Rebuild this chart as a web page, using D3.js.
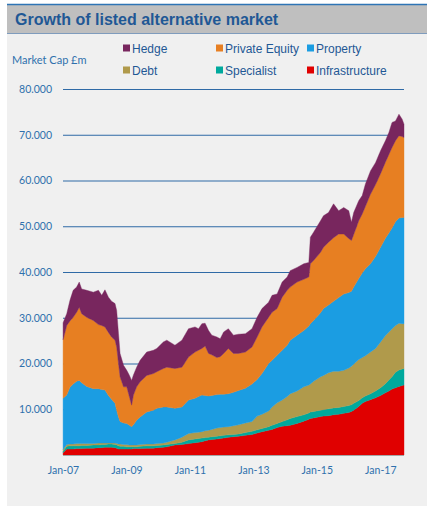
<!DOCTYPE html>
<html>
<head>
<meta charset="utf-8">
<script src="https://cdn.jsdelivr.net/npm/d3@7/dist/d3.min.js"></script>
<style>
    body { margin: 0; background: #fff; }
</style>
</head>
<body>
<svg id="chart" width="427" height="506"></svg>
<script>
// market cap by sector, £m (stacked bottom -> top)
var dates = [
    "2007-01-02","2007-02-13","2007-03-22","2007-04-28","2007-06-07","2007-07-07","2007-08-04","2007-10-01","2007-12-16","2008-02-13",
    "2008-03-22","2008-04-28","2008-06-07","2008-07-13","2008-08-22","2008-09-10","2008-10-01","2008-10-19","2008-11-28","2009-01-04",
    "2009-02-04","2009-03-01","2009-03-22","2009-04-28","2009-06-07","2009-08-22","2009-11-07","2009-12-16","2010-03-01","2010-04-10",
    "2010-07-13","2010-10-01","2010-12-16","2011-03-01","2011-04-10","2011-05-19","2011-06-25","2011-08-04","2011-09-10","2011-11-07",
    "2011-12-16","2012-01-25","2012-03-19","2012-05-16","2012-07-13","2012-10-01","2012-12-16","2013-02-13","2013-04-10","2013-06-25",
    "2013-08-04","2013-10-01","2013-11-28","2014-01-25",
    "2014-03-01","2014-05-19","2014-08-04","2014-10-01","2014-10-19","2014-11-25","2015-02-13","2015-03-19","2015-05-16","2015-07-13",
    "2015-09-10","2015-11-07","2016-01-04","2016-02-04","2016-03-01","2016-04-28","2016-06-07","2016-07-13","2016-09-10","2016-11-07",
    "2017-01-04","2017-03-01","2017-04-10","2017-05-16","2017-06-25","2017-08-04","2017-09-10","2017-10-01"
];

var infrastructure = [
    500,1300,1300,1300,1400,1400,1400,1500,1500,1600, 1600,1700,1700,1700,1600,1500,1300,1300,1300,1300,
    1300,1300,1400,1400,1400,1500,1500,1600,1700,1800,
    2200,2300,2500,2700,2800,2900,3100,3300,3400,3500, 3600,3700,3900,4000,4100,4300,4500,4800,5100,5400,
    5600,6000,6300,6400,
    6500,6900,7400,7800,8000,8100,8400,8500,8600,8800, 8900,9100,9300,9500,9800,10600,11300,11700,12100,12500,
    13000,13600,14000,14400,14700,15000,15200,15300
];
var specialist = [
    300,600,700,700,600,600,700,600,700,600, 700,600,700,700,700,700,700,600,600,500,
    500,500,400,400,500,500,500,500,500,500,
    300,500,800,800,800,800,700,600,600,600, 600,600,500,500,500,600,700,700,700,800,
    900,900,1000,1300,
    1500,1500,1400,1400,1400,1400,1400,1400,1500,1500, 1500,1500,1500,1500,1500,1300,1200,1200,1300,1500,
    1700,2000,2400,2700,3400,3600,3600,3600
];
var debt = [
    400,400,400,400,500,500,400,400,300,400, 300,300,200,200,300,300,400,500,400,500,
    400,400,400,400,400,400,400,400,400,500,
    800,1100,1400,1400,1400,1400,1500,1500,1600,1800, 1800,1800,1800,1900,2000,2100,2100,3000,3100,3400,
    4000,4500,4700,5100,
    5400,5600,6100,6100,6100,6600,7300,7500,7900,8000, 7900,7900,8200,8400,8600,9000,8800,8800,9100,9300,
    10000,10500,10500,10500,10200,10200,9900,9800
];
var property = [
    11200,10800,12400,13100,13600,13800,13300,12500,12000,11900, 11700,11600,10400,9600,8700,7300,5900,4900,4700,4600,
    4300,4000,4400,5400,6000,7000,7400,7700,7900,7700,
    6900,6600,7300,7500,7800,8000,7700,7500,7400,7300, 7300,7200,7200,7300,7500,7600,8200,8000,8900,10400,
    10200,10400,10900,11200,
    11700,12200,12300,12900,13200,13300,14000,14600,14800,15300, 16100,16700,16500,16400,16800,17700,18500,19000,19300,20100,
    20700,21300,21600,22000,22700,23000,23200,23200
];
var privateEquity = [
    12800,15200,14500,14600,15100,16000,15100,15100,14900,14000, 14000,13800,13800,13600,13800,13800,11700,9800,7900,8000,
    6200,4700,6500,7300,7700,8000,8000,8000,8400,8700,
    8700,8700,9400,10100,10100,10200,10800,9300,8900,8100, 8200,8900,9900,8500,8100,7900,8100,9300,10200,10100,
    10500,10200,11600,12000,
    11600,11600,11200,10700,13100,13100,13200,13400,13700,13900, 13900,13100,11800,11100,11500,12600,12900,13600,15200,15700,
    16100,16600,17200,17600,17700,18000,17700,17500
];
var hedge = [
    3700,2600,4500,5900,5500,5500,5400,5900,6200,7500, 6600,8100,7700,7800,8000,8000,6500,5100,4700,3600,
    4700,5400,4400,4300,4700,5100,5100,5100,5800,5900,
    5100,5900,6200,5500,4700,5400,5000,5000,4300,4500, 3900,4700,4300,4000,4200,4000,4000,4300,4000,3300,
    3700,3200,3300,2900,
    3600,3200,3400,3200,5800,6200,6900,6900,6500,7400, 5100,5800,6100,4000,4800,4400,4000,4900,5100,4800,
    5000,4700,4800,5500,4300,4700,3800,2900
];

var seriesNames = ["Infrastructure", "Specialist", "Debt", "Property", "Private Equity", "Hedge"];
var seriesColors = ["#e00000", "#00a99d", "#b09a4b", "#1b9de2", "#e77f22", "#78265e"];
var legendRows = [["Hedge", "Private Equity", "Property"], ["Debt", "Specialist", "Infrastructure"]];
var yTicks = [10000, 20000, 30000, 40000, 50000, 60000, 70000, 80000];
var xTicks = ["2007-01-01", "2009-01-01", "2011-01-01", "2013-01-01", "2015-01-01", "2017-01-01"];

(function() {

    var svg = d3.select("#chart"),
        left = 63, right = 404,
        top = 89, bottom = 455,
        labelBlue = "#2f70ad",
        darkBlue = "#1f5895"
        ;

    var parse = d3.timeParse("%Y-%m-%d");
    var values = [infrastructure, specialist, debt, property, privateEquity, hedge];

    var rows = dates.map(function(d, i) {
        var row = { date: parse(d) };
        seriesNames.forEach(function(name, j) { row[name] = values[j][i]; });
        return row;
    });

    // first tick (Jan-07) sits right on the left edge of the plot
    var x = d3.scaleTime()
        .domain([parse("2007-01-01"), d3.max(rows, function(d) { return d.date; })])
        .range([left, right]);

    var y = d3.scaleLinear()
        .domain([0, 80000])
        .range([bottom, top]);

    var stacked = d3.stack().keys(seriesNames)(rows);

    // panel + title bar
    svg.append("rect")
        .attr("x", 7).attr("y", 4)
        .attr("width", 420).attr("height", 502)
        .style("fill", "#f0f0f0");
    svg.append("rect")
        .attr("x", 7).attr("y", 4)
        .attr("width", 420).attr("height", 29)
        .style("fill", "#bfbfbf");
    svg.append("line")
        .attr("x1", 7).attr("x2", 427)
        .attr("y1", 4.5).attr("y2", 4.5)
        .style("stroke", "#2e74b5").style("stroke-width", 1.3);
    svg.append("line")
        .attr("x1", 7).attr("x2", 427)
        .attr("y1", 33.5).attr("y2", 33.5)
        .style("stroke", "#7f9cbd");

    svg.append("text")
        .attr("x", 15).attr("y", 25)
        .text("Growth of listed alternative market")
        .style("font-family", "'Liberation Sans', Arial, sans-serif")
        .style("font-weight", "bold")
        .style("font-size", "16px")
        .style("fill", darkBlue);

    svg.append("text")
        .attr("x", 12).attr("y", 64)
        .text("Market Cap £m")
        .style("font-family", "Lato, sans-serif")
        .style("font-size", "11px")
        .style("fill", labelBlue);

    // legend
    var colX = [123, 216, 307], rowY = [48, 70];
    legendRows.forEach(function(names, r) {
        names.forEach(function(name, c) {
            var g = svg.append("g")
                .attr("transform", "translate(" + colX[c] + "," + rowY[r] + ")");
            g.append("rect")
                .attr("x", 0).attr("y", -3.5)
                .attr("width", 7).attr("height", 7)
                .style("fill", seriesColors[seriesNames.indexOf(name)]);
            g.append("text")
                .attr("x", 9).attr("y", 4.5)
                .text(name)
                .style("font-family", "'Liberation Sans', Arial, sans-serif")
                .style("font-size", "12px")
                .style("fill", darkBlue);
        });
    });

    // gridlines go behind the areas
    svg.append("g")
        .attr("transform", "translate(" + left + ",0)")
        .call(d3.axisLeft(y).tickValues(yTicks).tickSize(-(right - left)).tickFormat(""))
        .call(function(g) { g.select(".domain").remove(); })
        .selectAll("line")
        .style("stroke", "#2f6aa6")
        .style("stroke-width", 1.1);

    var area = d3.area()
        .x(function(d) { return x(d.data.date); })
        .y0(function(d) { return y(d[0]); })
        .y1(function(d) { return y(d[1]); });

    svg.append("g")
        .selectAll("path")
        .data(stacked)
        .enter().append("path")
        .attr("d", area)
        .style("fill", function(d, i) { return seriesColors[i]; })
        .style("stroke", function(d, i) { return seriesColors[i]; })
        .style("stroke-width", 0.4);

    svg.append("line")
        .attr("x1", left).attr("x2", right)
        .attr("y1", bottom + 0.5).attr("y2", bottom + 0.5)
        .style("stroke", "#a6a6a6");

    var fmt = d3.formatLocale({ decimal: ",", thousands: ".", grouping: [3], currency: ["£", ""] }).format(",.0f");

    svg.append("g")
        .attr("transform", "translate(" + left + ",0)")
        .call(d3.axisLeft(y).tickValues(yTicks).tickSize(0).tickPadding(11).tickFormat(fmt))
        .call(function(g) { g.select(".domain").remove(); })
        .selectAll("text")
        .style("font-family", "Lato, sans-serif")
        .style("font-size", "10.5px")
        .style("fill", labelBlue);

    svg.append("g")
        .attr("transform", "translate(0," + bottom + ")")
        .call(d3.axisBottom(x).tickValues(xTicks.map(parse)).tickSize(0).tickPadding(12)
            .tickFormat(d3.timeFormat("%b-%y")))
        .call(function(g) { g.select(".domain").remove(); })
        .selectAll("text")
        .style("font-family", "Lato, sans-serif")
        .style("font-size", "10.5px")
        .style("fill", labelBlue);

})();
</script>
</body>
</html>
